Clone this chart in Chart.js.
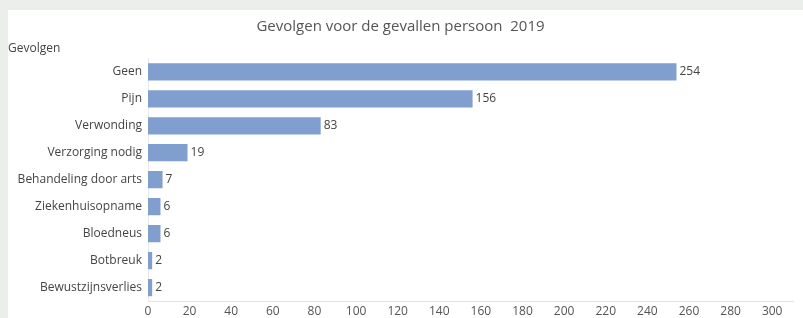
<!DOCTYPE html>
<html>
<head>
<meta charset="utf-8">
<script src="https://cdn.jsdelivr.net/npm/chart.js@4"></script>
<style>
  html, body { margin: 0; padding: 0; background: #eceeec; }
  #wrap { position: absolute; left: 8px; top: 10px; width: 795px; height: 308px; background: #ffffff; }
</style>
</head>
<body>
<div id="wrap"><canvas id="gevolgenChart"></canvas></div>
<script>
// Gevolgen voor de gevallen persoon 2019

const categories = [
    "Geen",
    "Pijn",
    "Verwonding",
    "Verzorging nodig",
    "Behandeling door arts",
    "Ziekenhuisopname",
    "Bloedneus",
    "Botbreuk",
    "Bewustzijnsverlies"
];
const aantallen = [254, 156, 83, 19, 7, 6, 6, 2, 2];
const xTicks = [0, 20, 40, 60, 80, 100, 120, 140, 160, 180, 200, 220, 240, 260, 280, 300];

const fontFam = "'Open Sans', 'DejaVu Sans', sans-serif";

// waarde rechts naast elke balk
const valueLabels = {
    id: "valueLabels",
    afterDatasetsDraw(chart) {
        const c = chart.ctx;
        const meta = chart.getDatasetMeta(0);
        c.save();
        c.font = "12px " + fontFam;
        c.fillStyle = "#444";
        c.textBaseline = "middle";
        c.textAlign = "left";
        meta.data.forEach((bar, i) => {
            c.fillText(String(aantallen[i]), bar.x + 3, bar.y);
        });
        c.restore();
    }
};

const ctx = document.getElementById("gevolgenChart");

new Chart(ctx, {
    type: "bar",
    data: {
        labels: categories,
        datasets: [{
            data: aantallen,
            backgroundColor: "#809fcf",
            borderWidth: 0,
            categoryPercentage: 1.0,
            barPercentage: 0.64
        }]
    },
    options: {
        indexAxis: "y",
        responsive: true,
        maintainAspectRatio: false,
        animation: false,
        layout: { padding: { left: 0, right: 10, top: 0, bottom: 0 } },
        plugins: {
            legend: { display: false },
            tooltip: { enabled: false },
            title: {
                display: true,
                text: "Gevolgen voor de gevallen persoon  2019",
                color: "#555",
                font: { family: fontFam, size: 15, weight: "normal" },
                padding: { top: 8, bottom: 5 }
            },
            subtitle: {
                display: true,
                text: "Gevolgen",
                align: "start",
                color: "#444",
                font: { family: fontFam, size: 12, weight: "normal" },
                padding: { top: 0, bottom: 3 }
            }
        },
        scales: {
            x: {
                min: 0,
                max: 310,
                afterBuildTicks(scale) {
                    scale.ticks = xTicks.map(v => ({ value: v }));
                },
                afterFit(scale) { scale.height = 17; },
                grid: { display: false, drawTicks: false },
                border: { display: true, color: "#e2e2e2" },
                ticks: {
                    color: "#555",
                    padding: 3,
                    maxRotation: 0,
                    autoSkip: false,
                    font: { family: fontFam, size: 12 }
                }
            },
            y: {
                afterFit(scale) { scale.width = 140; },
                grid: { display: false, drawTicks: false },
                border: { display: true, color: "#e8e8e8" },
                ticks: {
                    color: "#444",
                    padding: 6,
                    autoSkip: false,
                    font: { family: fontFam, size: 12 }
                }
            }
        }
    },
    plugins: [valueLabels]
});
</script>
</body>
</html>
